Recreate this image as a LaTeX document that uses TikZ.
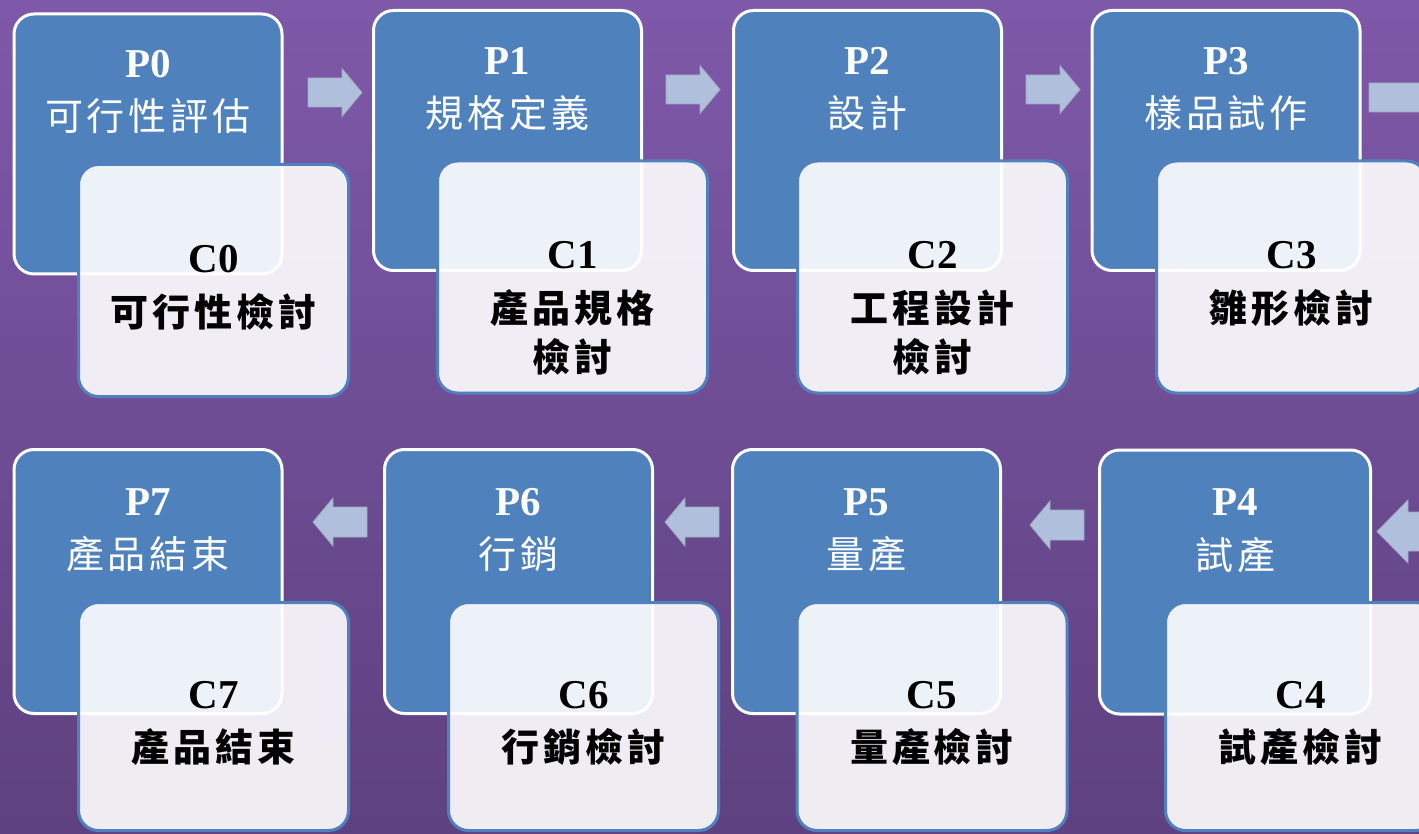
\documentclass[tikz,border=0pt]{standalone}
\usepackage{fontspec}
\setmainfont{Liberation Serif}
\newfontfamily\cjk{Noto Sans CJK TC}
\usetikzlibrary{calc}
\definecolor{bgtop}{RGB}{126,89,169}
\definecolor{bgbot}{RGB}{94,65,128}
\definecolor{pblue}{RGB}{79,129,189}
\definecolor{cblue}{RGB}{80,128,190}
\definecolor{afill}{RGB}{176,192,220}
\definecolor{aline}{RGB}{160,168,190}
\makeatletter
\newcommand\spacedzh[1]{\@tfor\zzch:=#1\do{\makebox[42pt]{\zzch}}}
\newcommand\spacedx[1]{\expandafter\spacedzh\expandafter{#1}}
\makeatother
\begin{document}
\begin{tikzpicture}[x=1pt,y=-1pt,
  pbox/.style={draw=white, line width=3pt, fill=pblue, rounded corners=20pt,
    minimum width=268pt, minimum height=260pt, inner sep=0pt, outer sep=0pt},
  cbox/.style={draw=cblue, line width=3pt, fill=white, fill opacity=0.9, draw opacity=1,
    rounded corners=20pt, minimum width=270pt, minimum height=232pt, inner sep=0pt, outer sep=0pt},
  plab/.style={anchor=base, text=white, inner sep=0pt, font=\fontsize{41}{41}\selectfont\bfseries},
  ptxt/.style={anchor=base, text=white, inner sep=0pt, font=\fontsize{38}{38}\selectfont\cjk},
  clab/.style={anchor=base, text=black, inner sep=0pt, font=\fontsize{41}{41}\selectfont\bfseries},
  ctxt/.style={anchor=base, text=black, inner sep=0pt, font=\fontsize{38}{38}\selectfont\cjk\bfseries},
  barrow/.style={fill=afill, draw=aline, line width=0.8pt}]
\useasboundingbox (0,0) rectangle (1419,834);
\clip (0,0) rectangle (1419,834);
\shade[top color=bgtop, bottom color=bgbot] (0,0) rectangle (1419,834);

% ---------- top row ----------
\node[pbox] (p0) at (148,144) {};
\node[cbox] (c0) at (213.5,280.5) {};
\node[pbox] (p1) at (507.5,140.5) {};
\node[cbox] (c1) at (572.5,277) {};
\node[pbox] (p2) at (867.5,140.5) {};
\node[cbox] (c2) at (932.5,277) {};
\node[pbox] (p3) at (1226,140.5) {};
\node[cbox] (c3) at (1291.5,277) {};

% ---------- bottom row ----------
\node[pbox, minimum height=264pt] (p7) at (148,581.5) {};
\node[cbox, minimum height=228pt] (c7) at (213.5,716.5) {};
\node[pbox, minimum height=264pt] (p6) at (518.5,581.5) {};
\node[cbox, minimum height=228pt] (c6) at (583.5,716.5) {};
\node[pbox, minimum height=264pt] (p5) at (866.5,581.5) {};
\node[cbox, minimum height=228pt] (c5) at (932,716.5) {};
\node[pbox, minimum height=264pt, minimum width=271pt] (p4) at (1235,582) {};
\node[cbox, minimum height=228pt] (c4) at (1300.5,716.5) {};

% ---------- texts top ----------
\foreach \n/\pl/\pt in {0/P0/可行性評估, 1/P1/規格定義, 2/P2/設計, 3/P3/樣品試作}{
  \node[plab] (p\n l) at ($(p\n.north)+(0,64)$) {\pl};
  \node[ptxt] (p\n t) at ($(p\n.north)+(0,117)$) {\spacedx{\pt}};
}
\foreach \n/\cl/\ct in {0/C0/可行性檢討, 1/C1/產品規格, 2/C2/工程設計, 3/C3/雛形檢討}{
  \node[clab] (c\n l) at ($(c\n.north)+(0,108)$) {\cl};
  \node[ctxt] (c\n t) at ($(c\n.north)+(0,162)$) {\spacedx{\ct}};
}
\node[ctxt] (c1u) at ($(c1.north)+(0,210)$) {\spacedzh{檢討}};
\node[ctxt] (c2u) at ($(c2.north)+(0,210)$) {\spacedzh{檢討}};

% ---------- texts bottom ----------
\foreach \n/\pl/\pt in {7/P7/產品結束, 6/P6/行銷, 5/P5/量產, 4/P4/試產}{
  \node[plab] (p\n l) at ($(p\n.north)+(0,65.5)$) {\pl};
  \node[ptxt] (p\n t) at ($(p\n.north)+(0,119)$) {\spacedx{\pt}};
}
\foreach \n/\cl/\ct in {7/C7/產品結束, 6/C6/行銷檢討, 5/C5/量產檢討, 4/C4/試產檢討}{
  \node[clab] (c\n l) at ($(c\n.north)+(0,105.5)$) {\cl};
  \node[ctxt] (c\n t) at ($(c\n.north)+(0,159)$) {\spacedx{\ct}};
}

% ---------- arrows top (pointing right) ----------
\coordinate (a01) at (308,92.5);
\coordinate (a12) at (666,89.5);
\coordinate (a23) at (1026,89.5);
\coordinate (a3x) at (1369,97.5);
\foreach \a in {a01,a12,a23}{
  \draw[barrow] (\a) ++(0,-14.5) -- ++(34,0) -- ++(0,-9.5) -- ++(20,24)
     -- ++(-20,24) -- ++(0,-9.5) -- ++(-34,0) -- cycle;
}
\draw[barrow] (a3x) ++(0,-14.5) -- ++(80,0) -- ++(0,-12) -- ++(30,26.5)
   -- ++(-30,26.5) -- ++(0,-12) -- ++(-80,0) -- cycle;

% ---------- arrows bottom (pointing left) ----------
\coordinate (a67) at (313,522);
\coordinate (a56) at (665,522);
\coordinate (a45) at (1030,525);
\coordinate (ax4) at (1377,531.5);
\foreach \a in {a67,a56,a45}{
  \draw[barrow] (\a) -- ++(20,-24) -- ++(0,9) -- ++(34,0) -- ++(0,30)
     -- ++(-34,0) -- ++(0,9) -- cycle;
}
\draw[barrow] (ax4) -- ++(31,-31.5) -- ++(0,12) -- ++(60,0) -- ++(0,39)
   -- ++(-60,0) -- ++(0,12) -- cycle;
\end{tikzpicture}
\end{document}
